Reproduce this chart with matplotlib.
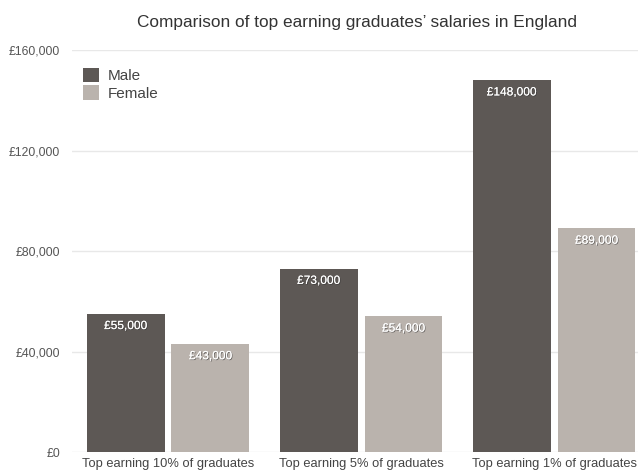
import matplotlib
matplotlib.use("Agg")
import matplotlib.pyplot as plt
import matplotlib.patheffects as pe
import numpy as np

plt.rcParams['font.family'] = ['Liberation Sans', 'DejaVu Sans']

groups = ["Top earning 10% of graduates", "Top earning 5% of graduates", "Top earning 1% of graduates"]
male = [55000, 73000, 148000]
female = [43000, 54000, 89000]
yticks = [0, 40000, 80000, 120000, 160000]

male_color = '#5d5855'
female_color = '#bab3ad'

fig = plt.figure(figsize=(6.38, 4.74), dpi=100)
ax = fig.add_axes([0.113, 0.0464, 0.887, 0.848])

x = np.arange(len(groups))
w = 0.404
off = w / 2 + 0.018

b1 = ax.bar(x - off, male, width=w, color=male_color, label='Male', zorder=2)
b2 = ax.bar(x + off, female, width=w, color=female_color, label='Female', zorder=2)

shadow = [pe.withSimplePatchShadow(offset=(0.6, -0.6), shadow_rgbFace='#333333', alpha=0.6), pe.Normal()]
for bars, vals in [(b1, male), (b2, female)]:
    for r, v in zip(bars, vals):
        ax.annotate(f"£{v:,}", (r.get_x() + r.get_width() / 2, v), xytext=(0, -4.5),
                    textcoords='offset points', ha='center', va='top',
                    color='white', fontsize=8.6, path_effects=shadow, zorder=3)

ax.set_xlim(-0.497, 2.435)
ax.set_ylim(0, 160000)
ax.set_yticks(yticks)
ax.set_yticklabels([f"£{v:,}" for v in yticks])
ax.set_xticks(x)
ax.set_xticklabels(groups)
ax.tick_params(axis='both', length=0, colors='#444444')
ax.tick_params(axis='y', pad=8.5, labelsize=8.8, colors='#555555')
ax.tick_params(axis='x', pad=4, labelsize=9.3)
ax.grid(axis='y', color='#e8e8e8', linewidth=1, zorder=0)
for s in ax.spines.values():
    s.set_visible(False)

ax.legend(loc='upper left', bbox_to_anchor=(-0.005, 0.99), frameon=False, fontsize=11,
          handlelength=1.05, handleheight=1.05, handletextpad=0.6, labelspacing=0.15,
          labelcolor='#444444')

fig.text(0.56, 0.953, "Comparison of top earning graduates’ salaries in England",
         ha='center', va='center', fontsize=12.4, color='#333333')

fig.savefig("out.png", dpi=100)
